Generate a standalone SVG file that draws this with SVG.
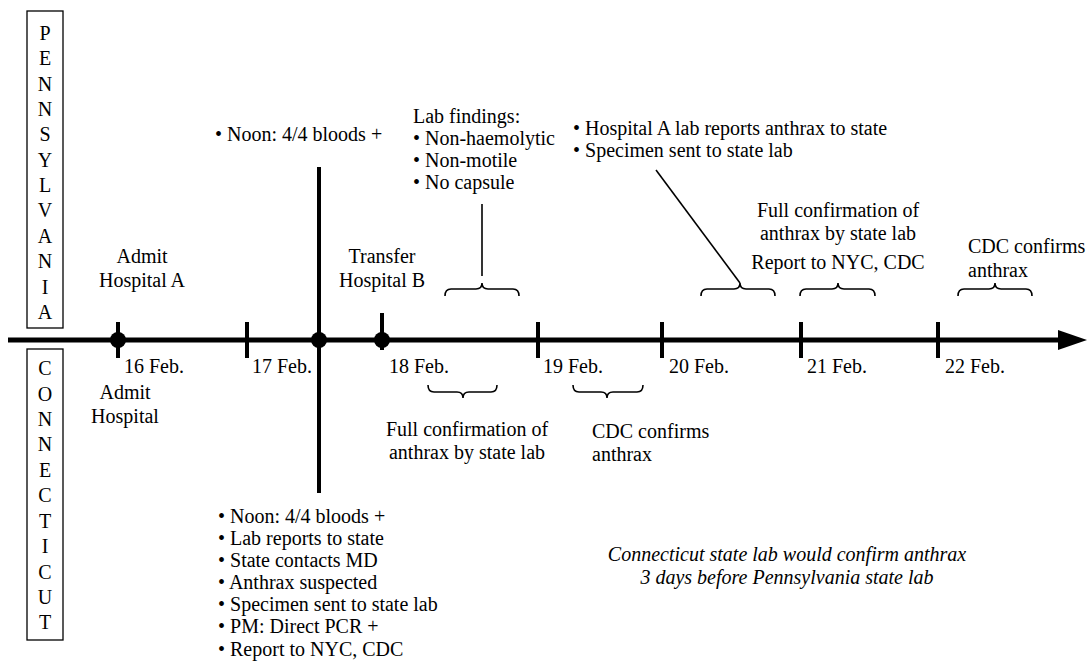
<svg xmlns="http://www.w3.org/2000/svg" width="1088" height="664" viewBox="0 0 1088 664">
<style>
text{font-family:"Liberation Serif","Times New Roman",serif;font-size:20px;fill:#000}
.m{text-anchor:middle}
.i{font-style:italic}
.box{fill:#fff;stroke:#000;stroke-width:1.3}
.ax{stroke:#000;stroke-width:5;fill:none}
.tk{stroke:#000;stroke-width:4;fill:none}
.br{stroke:#000;stroke-width:1.6;fill:none}
.ln{stroke:#000;stroke-width:1.6;fill:none}
</style>
<rect width="1088" height="664" fill="#fff"/>
<g id="pennsylvania">
<rect class="box" x="27" y="11" width="36" height="317"/>
<text class="m" x="45" y="40">P</text><text class="m" x="45" y="65">E</text><text class="m" x="45" y="91">N</text><text class="m" x="45" y="116">N</text><text class="m" x="45" y="141">S</text><text class="m" x="45" y="167">Y</text><text class="m" x="45" y="192">L</text><text class="m" x="45" y="217">V</text><text class="m" x="45" y="243">A</text><text class="m" x="45" y="268">N</text><text class="m" x="45" y="294">I</text><text class="m" x="45" y="319">A</text>
</g>
<g id="connecticut">
<rect class="box" x="27" y="349" width="36" height="291"/>
<text class="m" x="45" y="375">C</text><text class="m" x="45" y="401">O</text><text class="m" x="45" y="426">N</text><text class="m" x="45" y="451">N</text><text class="m" x="45" y="477">E</text><text class="m" x="45" y="502">C</text><text class="m" x="45" y="528">T</text><text class="m" x="45" y="553">I</text><text class="m" x="45" y="579">C</text><text class="m" x="45" y="604">U</text><text class="m" x="45" y="629">T</text>
</g>
<g id="connectors">
<line class="ax" x1="8" y1="340" x2="1062" y2="340"/>
<polygon points="1058,330 1087,340 1058,350" fill="#000"/>
<line class="tk" x1="118" y1="322" x2="118" y2="358"/>
<circle cx="118" cy="340" r="8" fill="#000"/>
<line class="tk" x1="247" y1="322" x2="247" y2="358"/>
<line class="tk" x1="319" y1="167" x2="319" y2="493"/>
<circle cx="319" cy="340" r="8" fill="#000"/>
<line class="tk" x1="382" y1="313" x2="382" y2="350"/>
<circle cx="382" cy="340" r="8" fill="#000"/>
<line class="tk" x1="538" y1="322" x2="538" y2="358"/>
<line class="tk" x1="662" y1="322" x2="662" y2="358"/>
<line class="tk" x1="801" y1="322" x2="801" y2="358"/>
<line class="tk" x1="938" y1="322" x2="938" y2="358"/>
<path class="br" d="M445,296 Q445,289 451,289 L476,289 Q482,289 482,283 Q482,289 488,289 L513,289 Q519,289 519,296"/>
<line class="ln" x1="482" y1="204" x2="482" y2="276"/>
<path class="br" d="M701,296 Q701,289 707,289 L734,289 Q740,289 740,283 Q740,289 746,289 L769,289 Q775,289 775,296"/>
<line class="ln" x1="740" y1="283" x2="656" y2="170"/>
<path class="br" d="M800,296 Q800,289 806,289 L832,289 Q838,289 838,283 Q838,289 844,289 L869,289 Q875,289 875,296"/>
<path class="br" d="M958,296 Q958,289 964,289 L989,289 Q995,289 995,283 Q995,289 1001,289 L1026,289 Q1032,289 1032,296"/>
<path class="br" d="M428,385 Q428,392 434,392 L457,392 Q463,392 463,398 Q463,392 469,392 L491,392 Q497,392 497,385"/>
<path class="br" d="M573,385 Q573,392 579,392 L601,392 Q607,392 607,398 Q607,392 613,392 L637,392 Q643,392 643,385"/>
</g>
<g id="dates">
<text x="124" y="373">16 Feb.</text>
<text x="252" y="373">17 Feb.</text>
<text x="389" y="373">18 Feb.</text>
<text x="543" y="373">19 Feb.</text>
<text x="669" y="373">20 Feb.</text>
<text x="807" y="373">21 Feb.</text>
<text x="945" y="373">22 Feb.</text>
</g>
<g id="admitA"><text class="m" x="142" y="263">Admit</text><text class="m" x="142" y="287">Hospital A</text></g>
<g id="admitCT"><text class="m" x="125" y="399">Admit</text><text class="m" x="125" y="423">Hospital</text></g>
<g id="noonPA"><text x="215" y="141">• Noon: 4/4 bloods +</text></g>
<g id="transfer"><text class="m" x="382" y="263">Transfer</text><text class="m" x="382" y="287">Hospital B</text></g>
<g id="labfindings">
<text x="413" y="123">Lab findings:</text>
<text x="413" y="145">• Non-haemolytic</text>
<text x="413" y="167">• Non-motile</text>
<text x="413" y="189">• No capsule</text>
</g>
<g id="hospA"><text x="573" y="135">• Hospital A lab reports anthrax to state</text><text x="573" y="157">• Specimen sent to state lab</text></g>
<g id="fullPA"><text class="m" x="838" y="217">Full confirmation of</text><text class="m" x="838" y="240">anthrax by state lab</text><text class="m" x="838" y="269">Report to NYC, CDC</text></g>
<g id="cdcPA"><text x="968" y="253">CDC confirms</text><text x="968" y="277">anthrax</text></g>
<g id="fullCT"><text class="m" x="467" y="436">Full confirmation of</text><text class="m" x="467" y="459">anthrax by state lab</text></g>
<g id="cdcCT"><text x="592" y="438">CDC confirms</text><text x="592" y="461">anthrax</text></g>
<g id="listCT">
<text x="218" y="523">• Noon: 4/4 bloods +</text>
<text x="218" y="545">• Lab reports to state</text>
<text x="218" y="567">• State contacts MD</text>
<text x="218" y="589">• Anthrax suspected</text>
<text x="218" y="611">• Specimen sent to state lab</text>
<text x="218" y="633">• PM: Direct PCR +</text>
<text x="218" y="656">• Report to NYC, CDC</text>
</g>
<g id="note"><text class="m i" x="787" y="561">Connecticut state lab would confirm anthrax</text><text class="m i" x="787" y="584">3 days before Pennsylvania state lab</text></g>
</svg>
